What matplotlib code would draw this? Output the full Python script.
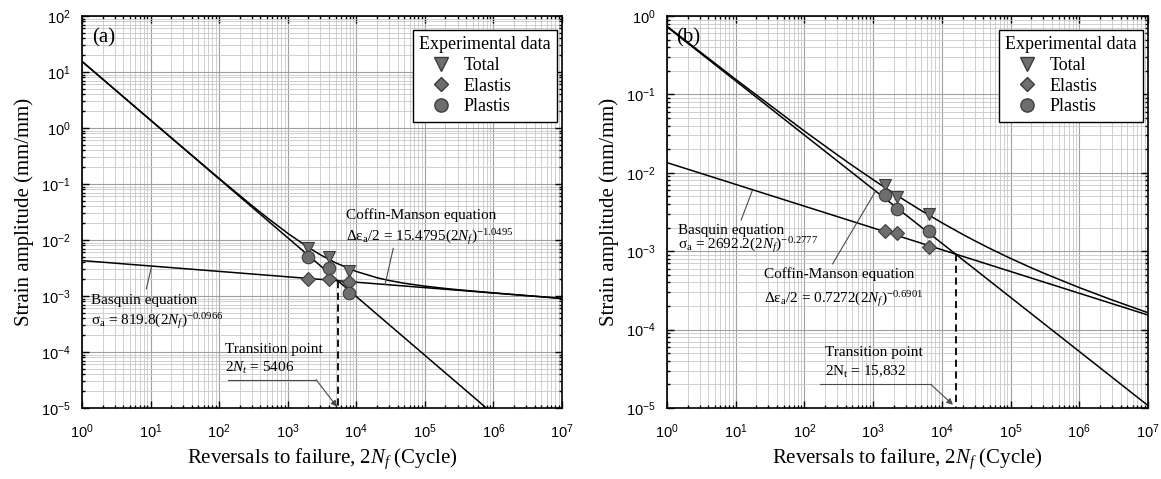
import numpy as np
import matplotlib.pyplot as plt
import matplotlib.ticker as mtick
from matplotlib.lines import Line2D

plt.rcParams['font.family'] = 'Liberation Serif'
plt.rcParams['mathtext.fontset'] = 'custom'
plt.rcParams['mathtext.rm'] = 'Liberation Serif'
plt.rcParams['mathtext.it'] = 'Liberation Serif:italic'
plt.rcParams['mathtext.bf'] = 'Liberation Serif:bold'

### Data, panel (a)
a_line_x = [1, 1e7]
a_plastic_y = [15.4795, 6.97e-7]
a_elastic_y = [4.293e-3, 9.05e-4]
a_total_x = [1, 10, 100, 300, 500, 1000, 2000, 3000, 5000, 1e4, 2e4, 3e4, 5e4,
             1e5, 2e5, 3e5, 1e6, 1e7]
a_total_y = [15.484, 1.385, 0.1260, 0.04139, 0.025119, 0.01320, 7.373e-3, 5.453e-3,
             3.916e-3, 2.745e-3, 2.1229e-3, 1.896e-3, 1.6905e-3, 1.4995e-3, 1.3626e-3,
             1.2976e-3, 1.1382e-3, 9.06e-4]
a_test_x = [1950, 3950, 7800]
a_total_pts = [7.1e-3, 4.9e-3, 2.85e-3]
a_elastic_pts = [2.0e-3, 2.0e-3, 1.8e-3]
a_plastic_pts = [4.9e-3, 3.1e-3, 1.15e-3]
a_transition = [5406, 1.87e-3]

### panel (b)
b_line_x = [1, 1e7]
b_plastic_y = [0.7272, 1.074e-5]
b_elastic_y = [0.013485, 1.534e-4]
b_total_x = [1, 10, 100, 300, 500, 1000, 2000, 3000, 5000, 1e4, 2e4, 3e4, 5e4,
             1e5, 2e5, 3e5, 1e6, 3e6, 1e7]
b_total_y = [0.7407, 0.15552, 0.034039, 0.016966, 0.012379, 8.160e-3, 5.468e-3,
             4.358e-3, 3.304e-3, 2.3067e-3, 1.6439e-3, 1.3616e-3, 1.0840e-3, 8.090e-4,
             6.1445e-4, 5.271e-4, 3.4347e-4, 2.3906e-4, 1.641e-4]
b_test_x = [1480, 2200, 6400]
b_total_pts = [6.98e-3, 4.87e-3, 2.98e-3]
b_elastic_pts = [1.83e-3, 1.69e-3, 1.14e-3]
b_plastic_pts = [5.2e-3, 3.42e-3, 1.83e-3]
b_transition = [15832, 9.19e-4]

legend_labels = ['Total', 'Elastis', 'Plastis']

mfc = '#6e6e6e'
mec = '#3c3c3c'
lead = '#4a4a4a'


def setup_axes(ax, ymin, ymax):
	ax.set_xscale('log')
	ax.set_yscale('log')
	ax.set_xlim(1, 1e7)
	ax.set_ylim(ymin, ymax)
	ax.xaxis.set_major_locator(mtick.LogLocator(base=10, numticks=20))
	ax.yaxis.set_major_locator(mtick.LogLocator(base=10, numticks=20))
	ax.xaxis.set_minor_locator(mtick.LogLocator(base=10, subs=np.arange(2, 10), numticks=20))
	ax.yaxis.set_minor_locator(mtick.LogLocator(base=10, subs=np.arange(2, 10), numticks=20))
	ax.xaxis.set_minor_formatter(mtick.NullFormatter())
	ax.yaxis.set_minor_formatter(mtick.NullFormatter())
	ax.grid(which='minor', color='#c8c8c8', lw=0.6)
	ax.grid(which='major', color='#a0a0a0', lw=0.8)
	ax.set_axisbelow(True)
	ax.tick_params(which='both', direction='in', top=True, right=True, width=1.0,
	               labelsize=10.5, labelfontfamily='Liberation Sans')
	ax.tick_params(axis='x', which='major', pad=10)
	ax.tick_params(axis='y', which='major', pad=8)
	ax.tick_params(which='major', length=5)
	ax.tick_params(which='minor', length=2.5)
	for s in ax.spines.values():
		s.set_linewidth(1.2)
	ax.set_xlabel(r'Reversals to failure, 2$N_f$ (Cycle)', fontsize=15, labelpad=4)
	ax.set_ylabel('Strain amplitude (mm/mm)', fontsize=15, labelpad=5)


def draw_panel(ax, lx, ply, ely, tx, ty, px, tpts, epts, ppts, trans):
	ax.plot(lx, ply, color='k', lw=1.1, zorder=3)
	ax.plot(lx, ely, color='k', lw=1.1, zorder=3)
	ax.plot(tx, ty, color='k', lw=1.1, zorder=3)
	ax.plot([trans[0], trans[0]], [trans[1], 1e-5], color='k', lw=1.3,
	        dashes=(4, 2.5), zorder=3)
	ax.plot(px, tpts, 'v', ms=9, mfc=mfc, mec=mec, mew=0.8, zorder=5, ls='none')
	ax.plot(px, epts, 'D', ms=6.8, mfc=mfc, mec=mec, mew=0.8, zorder=5, ls='none')
	ax.plot(px, ppts, 'o', ms=9, mfc=mfc, mec=mec, mew=0.8, zorder=5, ls='none')

	handles = [Line2D([], [], marker='v', ms=9.5, mfc=mfc, mec=mec, ls='none'),
	           Line2D([], [], marker='D', ms=7, mfc=mfc, mec=mec, ls='none'),
	           Line2D([], [], marker='o', ms=9.5, mfc=mfc, mec=mec, ls='none')]
	leg = ax.legend(handles, legend_labels, title='Experimental data', loc='upper right',
	                bbox_to_anchor=(0.990, 0.964), borderaxespad=0, fancybox=False,
	                edgecolor='k', framealpha=1, fontsize=13, title_fontsize=13,
	                handlelength=2.45, handletextpad=0.0, labelspacing=0.2,
	                borderpad=0.35)
	leg.get_frame().set_linewidth(1.0)
	leg._legend_box.align = 'left'


def leader(ax, pts, arrow=False):
	xs = [p[0] for p in pts]
	ys = [p[1] for p in pts]
	if arrow:
		ax.plot(xs[:-1], ys[:-1], color=lead, lw=0.8, zorder=4)
		ax.annotate('', xy=pts[-1], xytext=pts[-2],
		            arrowprops=dict(arrowstyle='-|>', color=lead, lw=0.8,
		                            mutation_scale=9, shrinkA=0, shrinkB=0), zorder=4)
	else:
		ax.plot(xs, ys, color=lead, lw=0.8, zorder=4)


fig = plt.figure(figsize=(11.61, 4.79), dpi=100)
ax1 = fig.add_axes([0.0706, 0.1482, 0.4134, 0.8184])
ax2 = fig.add_axes([0.5745, 0.1482, 0.4143, 0.8184])

### (a)
setup_axes(ax1, 1e-5, 1e2)
draw_panel(ax1, a_line_x, a_plastic_y, a_elastic_y, a_total_x, a_total_y,
           a_test_x, a_total_pts, a_elastic_pts, a_plastic_pts, a_transition)
ax1.text(0.045, 0.945, '(a)', transform=ax1.transAxes, fontsize=15, ha='center', va='center')
ax1.text(7080, 0.0282, 'Coffin-Manson equation', fontsize=11, va='center', zorder=6)
ax1.text(7080, 0.0112, r'Δε$_\mathrm{a}$/2 = 15.4795(2$N_f$)$^{-1.0495}$', fontsize=11,
         va='center', zorder=6)
leader(ax1, [(34700, 7.1e-3), (26300, 1.6e-3)])
ax1.text(1.36, 8.3e-4, 'Basquin equation', fontsize=11, va='center', zorder=6)
ax1.text(1.36, 3.6e-4, r'σ$_\mathrm{a}$ = 819.8(2$N_f$)$^{-0.0966}$', fontsize=11,
         va='center', zorder=6)
leader(ax1, [(8.7, 1.35e-3), (10.3, 3.3e-3)])
ax1.text(123, 1.12e-4, 'Transition point', fontsize=11, va='center', zorder=6)
ax1.text(123, 5.2e-5, r'2$N_t$ = 5406', fontsize=11, va='center', zorder=6)
leader(ax1, [(135, 3.2e-5), (2600, 3.2e-5), (5250, 1.05e-5)], arrow=True)

### (b)
setup_axes(ax2, 1e-5, 1e0)
draw_panel(ax2, b_line_x, b_plastic_y, b_elastic_y, b_total_x, b_total_y,
           b_test_x, b_total_pts, b_elastic_pts, b_plastic_pts, b_transition)
ax2.text(0.045, 0.945, '(b)', transform=ax2.transAxes, fontsize=15, ha='center', va='center')
ax2.text(1.45, 1.86e-3, 'Basquin equation', fontsize=11, va='center', zorder=6)
ax2.text(1.45, 1.2e-3, r'σ$_\mathrm{a}$ = 2692.2(2$N_f$)$^{-0.2777}$', fontsize=11,
         va='center', zorder=6)
leader(ax2, [(12, 2.5e-3), (17.4, 5.9e-3)])
ax2.text(25.7, 5.1e-4, 'Coffin-Manson equation', fontsize=11, va='center', zorder=6)
ax2.text(25.7, 2.45e-4, r'Δε$_\mathrm{a}$/2 = 0.7272(2$N_f$)$^{-0.6901}$', fontsize=11,
         va='center', zorder=6)
leader(ax2, [(257, 6.9e-4), (1070, 5.7e-3)])
ax2.text(200, 5.1e-5, 'Transition point', fontsize=11, va='center', zorder=6)
ax2.text(200, 2.9e-5, r'2N$_\mathrm{t}$ = 15,832', fontsize=11, va='center', zorder=6)
leader(ax2, [(166, 2.0e-5), (6900, 2.0e-5), (14500, 1.1e-5)], arrow=True)

fig.savefig('out.png', dpi=100)
